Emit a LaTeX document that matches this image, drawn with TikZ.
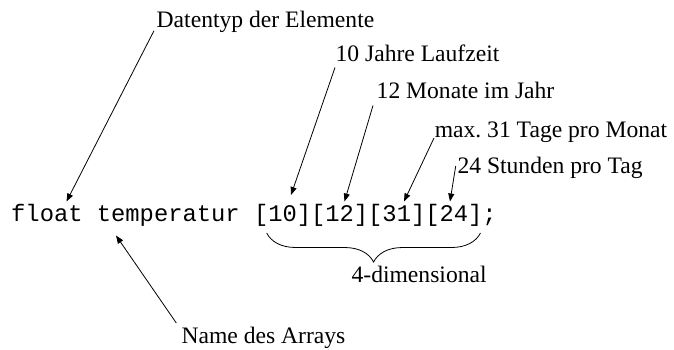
\documentclass[tikz,border=0pt]{standalone}
\usepackage{fontspec}
\setmainfont{Liberation Serif}
\setmonofont{Liberation Mono}
\usetikzlibrary{arrows.meta,decorations.pathreplacing}
\frenchspacing
\begin{document}
\begin{tikzpicture}[x=1pt,y=-1pt,
  lab/.style={inner sep=0pt,anchor=base west,font=\fontsize{23.6}{28}\selectfont},
  code/.style={inner sep=0pt,anchor=base west,font=\fontsize{23.8}{28}\selectfont\ttfamily},
  arr/.style={draw,line width=0.8pt,-{Triangle[length=8pt,width=6pt]}},
  bracestyle/.style={draw,line width=0.8pt,decorate,decoration={brace,mirror,amplitude=29pt}}]
\useasboundingbox (0,0) rectangle (674,349);
% code line
\node[code] (float) at (11,221.7) {float};
\node[code] (temp)  at (96.7,221.7) {temperatur};
\node[code] (b10)   at (253.8,221.7) {[10]};
\node[code] (b12)   at (310.9,221.7) {[12]};
\node[code] (b31)   at (368.0,221.7) {[31]};
\node[code] (b24)   at (425.1,221.7) {[24]};
\node[code] (semi)  at (482.2,221.7) {;};
% labels
\node[lab] (ldt)   at (156.5,27.3) {Datentyp der Elemente};
\node[lab] (l10)   at (335.4,61.5) {10 Jahre Laufzeit};
\node[lab] (l12)   at (376.5,98)   {12 Monate im Jahr};
\node[lab] (l31)   at (434.6,137)  {max.\ 31 Tage pro Monat};
\node[lab] (l24)   at (457.3,173)  {24 Stunden pro Tag};
\node[lab] (ldim)  at (351.4,282)  {4-dimensional};
\node[lab] (lname) at (181.3,343)  {Name des Arrays};
% arrows
\draw[arr] ([shift={(-2.5,3.4)}]ldt.base west) -- ([shift={(55.5,-20.2)}]float.base west);
\draw[arr] ([shift={(-0.4,6)}]l10.base west) -- ([shift={(37.2,-26.7)}]b10.base west);
\draw[arr] ([shift={(-3.5,7.5)}]l12.base west) -- ([shift={(33.6,-20.2)}]b12.base west);
\draw[arr] ([shift={(-0.6,1)}]l31.base west) -- ([shift={(36,-20.2)}]b31.base west);
\draw[arr] ([shift={(-1.6,-7)}]l24.base west) -- ([shift={(24.9,-20.2)}]b24.base west);
\draw[arr] ([shift={(-5,-20)}]lname.base west) -- ([shift={(19.3,13.8)}]temp.base west);
% brace
\draw[bracestyle] ([shift={(12.9,11.3)}]b10.base west) -- ([shift={(-2.2,11.3)}]b24.base east);
\end{tikzpicture}
\end{document}
